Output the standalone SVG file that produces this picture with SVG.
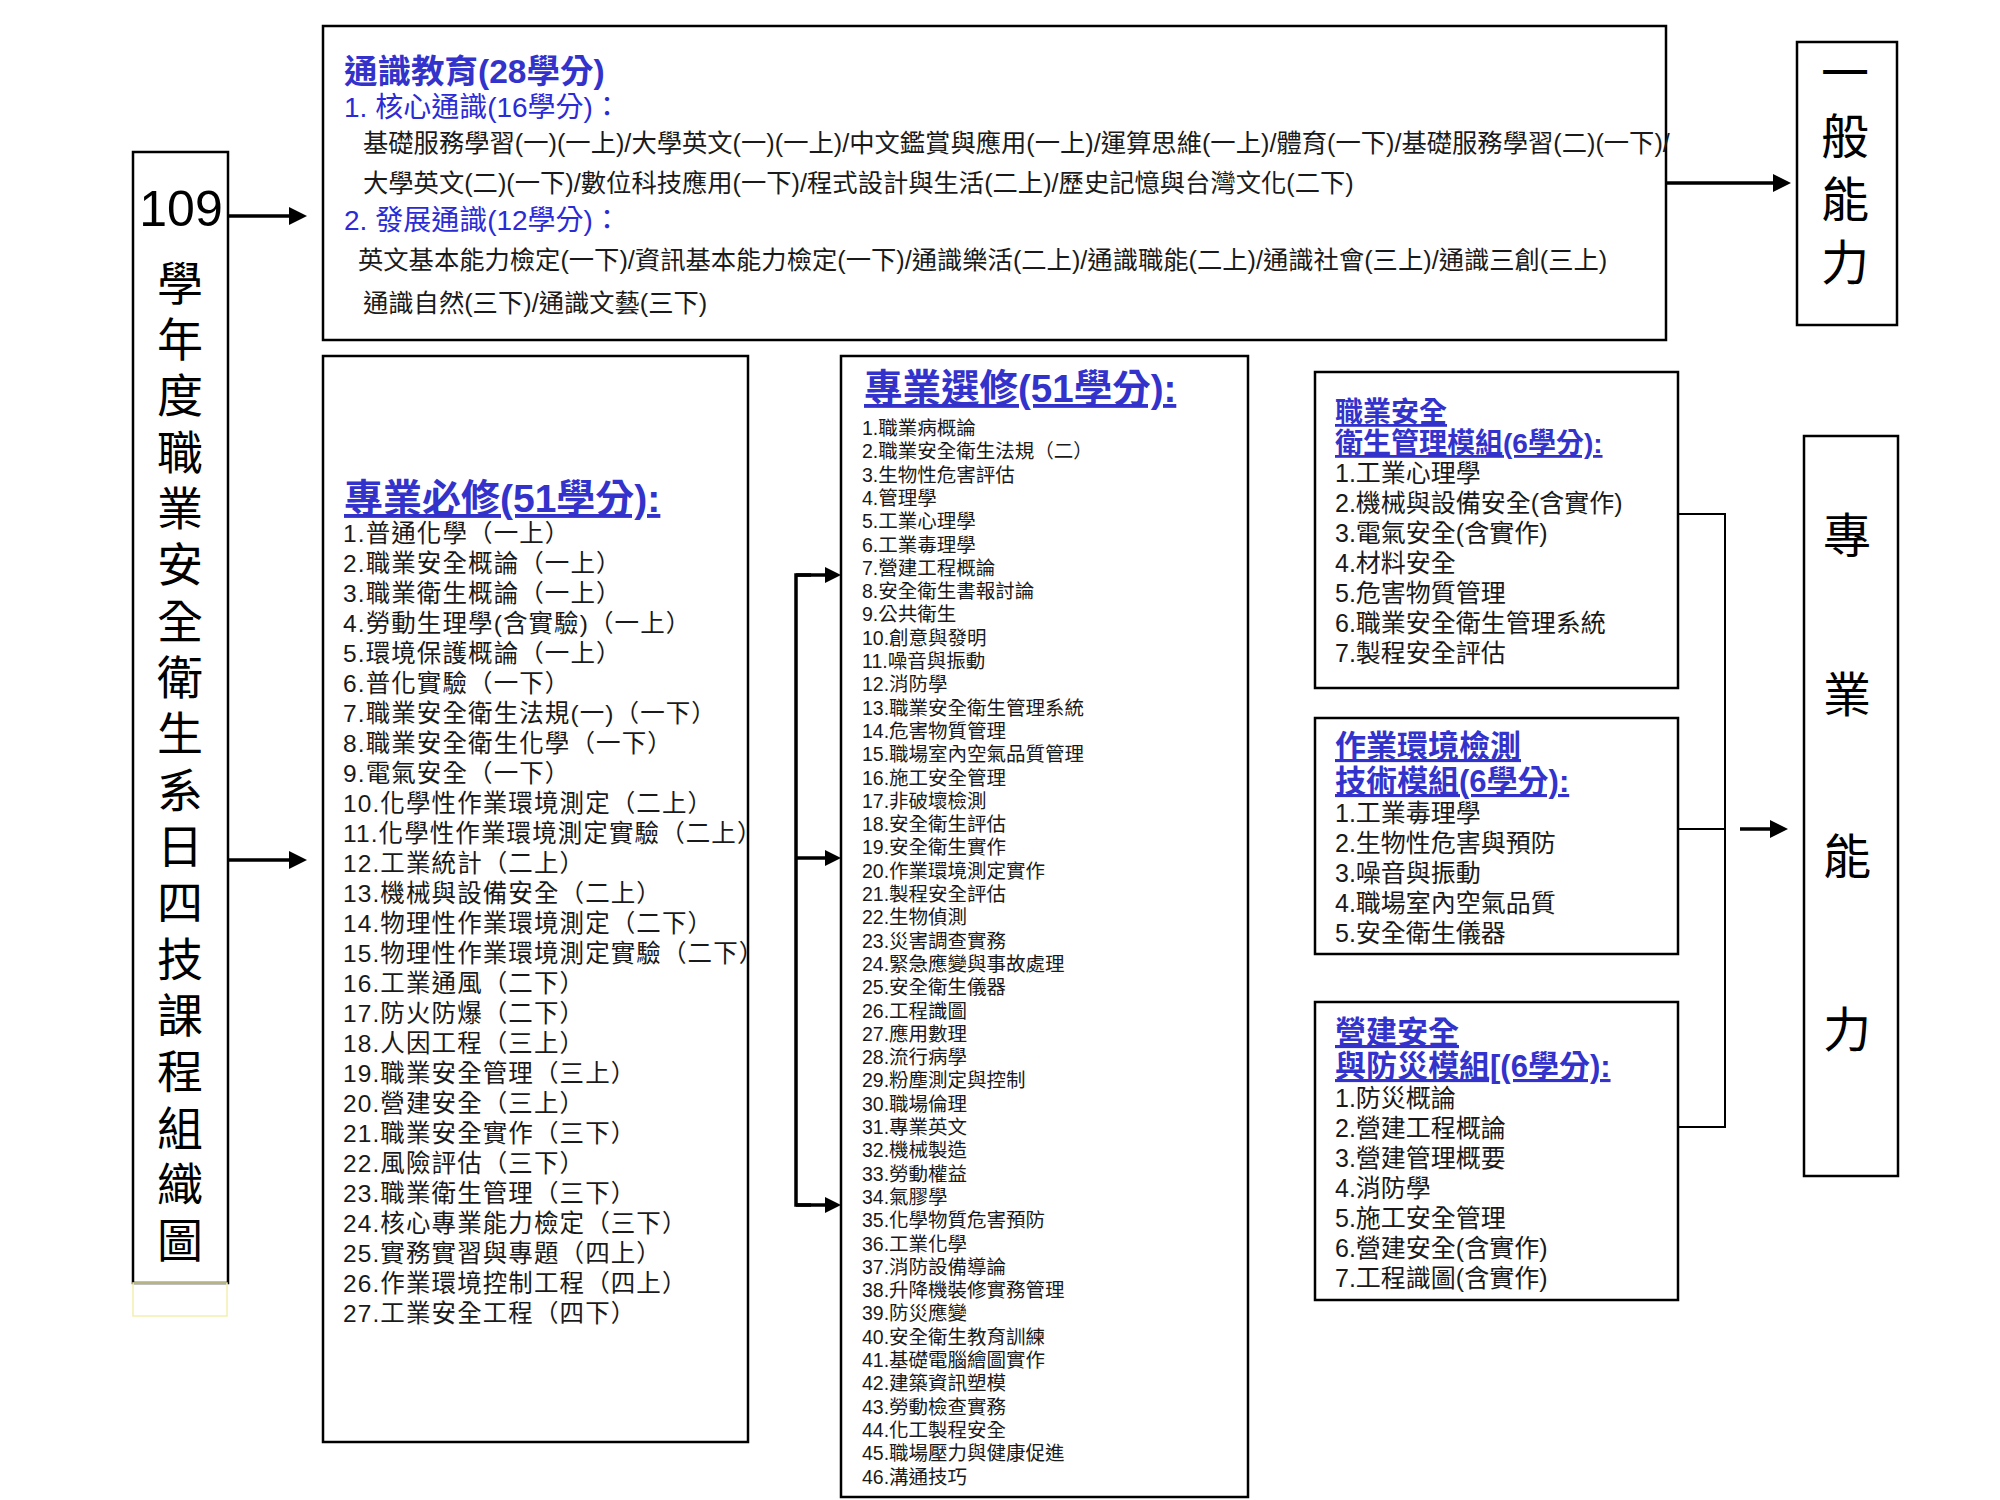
<svg xmlns="http://www.w3.org/2000/svg" width="2000" height="1500" viewBox="0 0 2000 1500">
<defs>
<style>
text{font-family:"Liberation Sans","Noto Sans CJK TC",sans-serif;}
.box{fill:#fff;stroke:#000;stroke-width:2.5;}
.body{fill:#1a1a1a;}
.req{font-size:24.5px;letter-spacing:1.1px;}
.ele{font-size:19.5px;}
.mod{font-size:25px;}
.gen{font-size:25.3px;}
.blue{fill:#3333cc;font-weight:bold;}
.sub{fill:#2b2bd6;font-size:28px;}
.ul{text-decoration:underline;}
.big{font-size:46px;fill:#000;text-anchor:middle;}
.arr{stroke:#000;stroke-width:3.5;fill:none;}
.thin{stroke:#000;stroke-width:2;fill:none;}
</style>
<marker id="ah" markerUnits="userSpaceOnUse" markerWidth="18" markerHeight="18" refX="6" refY="9" orient="auto">
<path d="M0,0 L18,9 L0,18 z" fill="#000"/>
</marker>
<marker id="ah2" markerUnits="userSpaceOnUse" markerWidth="16" markerHeight="16" refX="5" refY="8" orient="auto">
<path d="M0,0 L16,8 L0,16 z" fill="#000"/>
</marker>
</defs>
<rect width="2000" height="1500" fill="#fff"/>

<g id="title-node">
<rect class="box" x="133" y="152" width="95" height="1131"/>
<rect x="133" y="1283" width="94" height="33" fill="none" stroke="#f3efb0" stroke-width="1.5"/>
<text x="181" y="226" style="font-size:50px;fill:#000;" text-anchor="middle">109</text>
<text class="big" x="180"><tspan x="180" y="300">學</tspan><tspan x="180" y="356">年</tspan><tspan x="180" y="412">度</tspan><tspan x="180" y="469">職</tspan><tspan x="180" y="525">業</tspan><tspan x="180" y="581">安</tspan><tspan x="180" y="638">全</tspan><tspan x="180" y="694">衛</tspan><tspan x="180" y="750">生</tspan><tspan x="180" y="807">系</tspan><tspan x="180" y="863">日</tspan><tspan x="180" y="919">四</tspan><tspan x="180" y="976">技</tspan><tspan x="180" y="1032">課</tspan><tspan x="180" y="1088">程</tspan><tspan x="180" y="1145">組</tspan><tspan x="180" y="1201">織</tspan><tspan x="180" y="1257">圖</tspan></text>
</g>

<g id="general-education">
<rect class="box" x="323" y="26" width="1343" height="314"/>
<text class="blue" x="344" y="83" style="font-size:33.5px;">通識教育(28學分)</text>
<text class="sub" x="344" y="117">1. 核心通識(16學分)：</text>
<text class="body gen" x="363" y="152">基礎服務學習(一)(一上)/大學英文(一)(一上)/中文鑑賞與應用(一上)/運算思維(一上)/體育(一下)/基礎服務學習(二)(一下)/</text>
<text class="body gen" x="363" y="192">大學英文(二)(一下)/數位科技應用(一下)/程式設計與生活(二上)/歷史記憶與台灣文化(二下)</text>
<text class="sub" x="344" y="230">2. 發展通識(12學分)：</text>
<text class="body gen" x="358" y="269">英文基本能力檢定(一下)/資訊基本能力檢定(一下)/通識樂活(二上)/通識職能(二上)/通識社會(三上)/通識三創(三上)</text>
<text class="body gen" x="363" y="312">通識自然(三下)/通識文藝(三下)</text>
</g>

<g id="general-ability">
<rect class="box" x="1797" y="42" width="100" height="283"/>
<text class="big" style="font-size:48px;"><tspan x="1845" y="90">一</tspan><tspan x="1845" y="154">般</tspan><tspan x="1845" y="217">能</tspan><tspan x="1845" y="280">力</tspan></text>
</g>

<g id="required-courses">
<rect class="box" x="323" y="356" width="425" height="1086"/>
<text class="blue ul" x="344" y="512" style="font-size:39px;">專業必修(51學分):</text>
<text class="body req">
<tspan x="343" y="542">1.普通化學（一上）</tspan>
<tspan x="343" y="572">2.職業安全概論（一上）</tspan>
<tspan x="343" y="602">3.職業衛生概論（一上）</tspan>
<tspan x="343" y="632">4.勞動生理學(含實驗)（一上）</tspan>
<tspan x="343" y="662">5.環境保護概論（一上）</tspan>
<tspan x="343" y="692">6.普化實驗（一下）</tspan>
<tspan x="343" y="722">7.職業安全衛生法規(一)（一下）</tspan>
<tspan x="343" y="752">8.職業安全衛生化學（一下）</tspan>
<tspan x="343" y="782">9.電氣安全（一下）</tspan>
<tspan x="343" y="812">10.化學性作業環境測定（二上）</tspan>
<tspan x="343" y="842">11.化學性作業環境測定實驗（二上）</tspan>
<tspan x="343" y="872">12.工業統計（二上）</tspan>
<tspan x="343" y="902">13.機械與設備安全（二上）</tspan>
<tspan x="343" y="932">14.物理性作業環境測定（二下）</tspan>
<tspan x="343" y="962">15.物理性作業環境測定實驗（二下）</tspan>
<tspan x="343" y="992">16.工業通風（二下）</tspan>
<tspan x="343" y="1022">17.防火防爆（二下）</tspan>
<tspan x="343" y="1052">18.人因工程（三上）</tspan>
<tspan x="343" y="1082">19.職業安全管理（三上）</tspan>
<tspan x="343" y="1112">20.營建安全（三上）</tspan>
<tspan x="343" y="1142">21.職業安全實作（三下）</tspan>
<tspan x="343" y="1172">22.風險評估（三下）</tspan>
<tspan x="343" y="1202">23.職業衛生管理（三下）</tspan>
<tspan x="343" y="1232">24.核心專業能力檢定（三下）</tspan>
<tspan x="343" y="1262">25.實務實習與專題（四上）</tspan>
<tspan x="343" y="1292">26.作業環境控制工程（四上）</tspan>
<tspan x="343" y="1322">27.工業安全工程（四下）</tspan>
</text>
</g>

<g id="elective-courses">
<rect class="box" x="841" y="356" width="407" height="1141"/>
<text class="blue ul" x="864" y="402" style="font-size:38.5px;">專業選修(51學分):</text>
<text class="body ele">
<tspan x="862" y="435">1.職業病概論</tspan>
<tspan x="862" y="458.3">2.職業安全衛生法規（二）</tspan>
<tspan x="862" y="481.6">3.生物性危害評估</tspan>
<tspan x="862" y="504.9">4.管理學</tspan>
<tspan x="862" y="528.2">5.工業心理學</tspan>
<tspan x="862" y="551.5">6.工業毒理學</tspan>
<tspan x="862" y="574.8">7.營建工程概論</tspan>
<tspan x="862" y="598.1">8.安全衛生書報討論</tspan>
<tspan x="862" y="621.4">9.公共衛生</tspan>
<tspan x="862" y="644.7">10.創意與發明</tspan>
<tspan x="862" y="668">11.噪音與振動</tspan>
<tspan x="862" y="691.3">12.消防學</tspan>
<tspan x="862" y="714.6">13.職業安全衛生管理系統</tspan>
<tspan x="862" y="737.9">14.危害物質管理</tspan>
<tspan x="862" y="761.2">15.職場室內空氣品質管理</tspan>
<tspan x="862" y="784.5">16.施工安全管理</tspan>
<tspan x="862" y="807.8">17.非破壞檢測</tspan>
<tspan x="862" y="831.1">18.安全衛生評估</tspan>
<tspan x="862" y="854.4">19.安全衛生實作</tspan>
<tspan x="862" y="877.7">20.作業環境測定實作</tspan>
<tspan x="862" y="901">21.製程安全評估</tspan>
<tspan x="862" y="924.3">22.生物偵測</tspan>
<tspan x="862" y="947.6">23.災害調查實務</tspan>
<tspan x="862" y="970.9">24.緊急應變與事故處理</tspan>
<tspan x="862" y="994.2">25.安全衛生儀器</tspan>
<tspan x="862" y="1017.5">26.工程識圖</tspan>
<tspan x="862" y="1040.8">27.應用數理</tspan>
<tspan x="862" y="1064.1">28.流行病學</tspan>
<tspan x="862" y="1087.4">29.粉塵測定與控制</tspan>
<tspan x="862" y="1110.7">30.職場倫理</tspan>
<tspan x="862" y="1134">31.專業英文</tspan>
<tspan x="862" y="1157.3">32.機械製造</tspan>
<tspan x="862" y="1180.6">33.勞動權益</tspan>
<tspan x="862" y="1203.9">34.氣膠學</tspan>
<tspan x="862" y="1227.2">35.化學物質危害預防</tspan>
<tspan x="862" y="1250.5">36.工業化學</tspan>
<tspan x="862" y="1273.8">37.消防設備導論</tspan>
<tspan x="862" y="1297.1">38.升降機裝修實務管理</tspan>
<tspan x="862" y="1320.4">39.防災應變</tspan>
<tspan x="862" y="1343.7">40.安全衛生教育訓練</tspan>
<tspan x="862" y="1367">41.基礎電腦繪圖實作</tspan>
<tspan x="862" y="1390.3">42.建築資訊塑模</tspan>
<tspan x="862" y="1413.6">43.勞動檢查實務</tspan>
<tspan x="862" y="1436.9">44.化工製程安全</tspan>
<tspan x="862" y="1460.2">45.職場壓力與健康促進</tspan>
<tspan x="862" y="1483.5">46.溝通技巧</tspan>
</text>
</g>

<g id="module-1">
<rect class="box" x="1315" y="372" width="363" height="316"/>
<text class="blue ul" style="font-size:28px;"><tspan x="1335" y="422">職業安全</tspan><tspan x="1335" y="453">衛生管理模組(6學分):</tspan></text>
<text class="body mod">
<tspan x="1335" y="482">1.工業心理學</tspan>
<tspan x="1335" y="512">2.機械與設備安全(含實作)</tspan>
<tspan x="1335" y="542">3.電氣安全(含實作)</tspan>
<tspan x="1335" y="572">4.材料安全</tspan>
<tspan x="1335" y="602">5.危害物質管理</tspan>
<tspan x="1335" y="632">6.職業安全衛生管理系統</tspan>
<tspan x="1335" y="662">7.製程安全評估</tspan>
</text>
</g>

<g id="module-2">
<rect class="box" x="1315" y="718" width="363" height="236"/>
<text class="blue ul" style="font-size:31px;"><tspan x="1335" y="757">作業環境檢測</tspan><tspan x="1335" y="792">技術模組(6學分):</tspan></text>
<text class="body mod">
<tspan x="1335" y="822">1.工業毒理學</tspan>
<tspan x="1335" y="852">2.生物性危害與預防</tspan>
<tspan x="1335" y="882">3.噪音與振動</tspan>
<tspan x="1335" y="912">4.職場室內空氣品質</tspan>
<tspan x="1335" y="942">5.安全衛生儀器</tspan>
</text>
</g>

<g id="module-3">
<rect class="box" x="1315" y="1002" width="363" height="298"/>
<text class="blue ul" style="font-size:31px;"><tspan x="1335" y="1043">營建安全</tspan><tspan x="1335" y="1077">與防災模組[(6學分):</tspan></text>
<text class="body mod">
<tspan x="1335" y="1107">1.防災概論</tspan>
<tspan x="1335" y="1137">2.營建工程概論</tspan>
<tspan x="1335" y="1167">3.營建管理概要</tspan>
<tspan x="1335" y="1197">4.消防學</tspan>
<tspan x="1335" y="1227">5.施工安全管理</tspan>
<tspan x="1335" y="1257">6.營建安全(含實作)</tspan>
<tspan x="1335" y="1287">7.工程識圖(含實作)</tspan>
</text>
</g>

<g id="professional-ability">
<rect class="box" x="1804" y="436" width="94" height="740"/>
<text class="big" style="font-size:48px;"><tspan x="1847" y="553">專</tspan><tspan x="1847" y="712">業</tspan><tspan x="1847" y="874">能</tspan><tspan x="1847" y="1047">力</tspan></text>
</g>

<g id="connectors">
<line class="arr" x1="228" y1="216" x2="295" y2="216" marker-end="url(#ah)"/>
<line class="arr" x1="228" y1="860" x2="295" y2="860" marker-end="url(#ah)"/>
<line class="arr" x1="1666" y1="183" x2="1779" y2="183" marker-end="url(#ah)"/>
<path class="arr" d="M811,575 H796 V1205 H811" stroke-width="3"/>
<line class="arr" stroke-width="3" x1="796" y1="575" x2="830" y2="575" marker-end="url(#ah2)"/>
<line class="arr" stroke-width="3" x1="796" y1="858" x2="830" y2="858" marker-end="url(#ah2)"/>
<line class="arr" stroke-width="3" x1="796" y1="1205" x2="830" y2="1205" marker-end="url(#ah2)"/>
<path class="thin" d="M1678,514 H1725 V1127 H1678 M1678,829 H1725"/>
<line class="arr" x1="1740" y1="829" x2="1776" y2="829" marker-end="url(#ah)"/>
</g>
</svg>
